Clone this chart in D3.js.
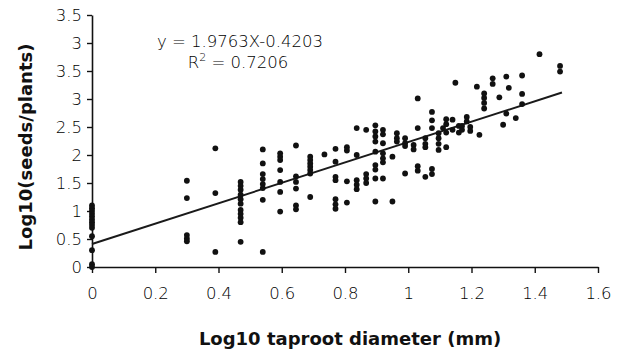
<!DOCTYPE html>
<html>
<head>
<meta charset="utf-8">
<script src="https://cdn.jsdelivr.net/npm/d3@7"></script>
<style>
  html, body { margin: 0; padding: 0; background: #fff; }
  svg { display: block; }
  .tick text { font-family: "DejaVu Sans", sans-serif; font-size: 16.5px; font-weight: 300; fill: #000; }
</style>
</head>
<body>
<svg id="chart" width="630" height="354"></svg>
<script>
// ---- data ----
const diameterCols = [0, 0.3, 0.39, 0.47, 0.54, 0.595, 0.645, 0.69, 0.735, 0.77, 0.806, 0.837,
  0.867, 0.896, 0.92, 0.95, 0.964, 0.99, 1.017, 1.03, 1.054, 1.075, 1.096, 1.11, 1.12, 1.14,
  1.149, 1.16, 1.17, 1.185, 1.196, 1.217, 1.225, 1.24, 1.267, 1.288, 1.30, 1.31, 1.318, 1.34,
  1.36, 1.415, 1.48];
const seedsByCol = [
  [1.1, 1.05, 1.0, 0.95, 0.9, 0.85, 0.8, 0.75, 0.7, 0.55, 0.3, 0.05, 0],
  [1.54, 1.23, 0.57, 0.51, 0.46],
  [2.12, 1.32, 0.27],
  [1.52, 1.45, 1.38, 1.29, 1.21, 1.13, 1.02, 0.95, 0.88, 0.80, 0.45],
  [2.10, 1.85, 1.66, 1.57, 1.48, 1.41, 1.2, 0.27],
  [2.03, 1.97, 1.91, 1.73, 1.52, 1.34, 0.99],
  [2.17, 1.62, 1.52, 1.40, 1.10, 1.03],
  [1.97, 1.91, 1.85, 1.79, 1.73, 1.67, 1.25],
  [2.01],
  [2.11, 1.88, 1.61, 1.55, 1.21, 1.12, 1.04],
  [2.14, 2.08, 1.53, 1.15],
  [2.48, 2.0, 1.55, 1.47, 1.39],
  [2.45, 1.66, 1.58, 1.50],
  [2.53, 2.42, 2.33, 2.24, 2.06, 1.82, 1.74, 1.58, 1.17],
  [2.45, 2.37, 2.21, 2.03, 1.94, 1.87, 1.58],
  [1.97, 1.17],
  [2.39, 2.30, 2.24],
  [2.30, 2.21, 2.16, 1.67],
  [2.18, 2.10],
  [3.01, 2.48, 1.80, 1.72],
  [2.30, 2.20, 2.14, 1.61],
  [2.77, 2.62, 2.48, 1.75, 1.66],
  [2.39, 2.30, 2.20, 2.09],
  [2.48],
  [2.64, 2.55, 2.40, 2.14],
  [2.63, 2.45],
  [3.29],
  [2.52, 2.40],
  [2.52, 2.45],
  [2.68, 2.60],
  [2.50, 2.43],
  [3.22],
  [2.36],
  [3.10, 3.02, 2.93, 2.83],
  [3.37, 3.27],
  [3.03],
  [2.54],
  [3.40, 2.74],
  [3.20],
  [2.66],
  [3.42, 3.09, 2.91],
  [3.80],
  [3.59, 3.49]
];
const trendX = [0, 1.486];
const trendY = [0.41, 3.115];
const xTickValues = [0, 0.2, 0.4, 0.6, 0.8, 1, 1.2, 1.4, 1.6];
const xTickLabels = ["0", "0.2", "0.4", "0.6", "0.8", "1", "1.2", "1.4", "1.6"];
const yTickValues = [0, 0.5, 1, 1.5, 2, 2.5, 3, 3.5, 4, 4.5];
const yTickLabels = ["0", "0.5", "1", "1.5", "2", "2.5", "3", "3.5", "3", "3.5"];
const equationText = "y = 1.9763X-0.4203";
const r2Label = "R";
const r2Value = " = 0.7206";
const xTitle = "Log10 taproot diameter (mm)";
const yTitle = "Log10(seeds/plants)";

// ---- build ----
const points = [];
diameterCols.forEach((x, i) => seedsByCol[i].forEach(y => points.push({x, y})));

const svg = d3.select("#chart");
const x = d3.scaleLinear().domain([0, 1.6]).range([92, 598]);
const y = d3.scaleLinear().domain([0, 4.5]).range([267, 15]);

const xAxis = d3.axisBottom(x).tickValues(xTickValues)
  .tickFormat((d, i) => xTickLabels[i]).tickSize(6).tickSizeOuter(0).tickPadding(14);
const yAxis = d3.axisLeft(y).tickValues(yTickValues)
  .tickFormat((d, i) => yTickLabels[i]).tickSize(5).tickSizeOuter(0).tickPadding(5);

const gx = svg.append("g").attr("transform", `translate(0,${y(0)})`).call(xAxis);
const gy = svg.append("g").attr("transform", `translate(${x(0)},0)`).call(yAxis);
[gx, gy].forEach(g => {
  g.select(".domain").attr("stroke", "#111").attr("stroke-width", 1.6);
  g.selectAll(".tick line").attr("stroke", "#111").attr("stroke-width", 1.4);
});
gy.selectAll(".tick text").attr("dy", "0.36em");

// trend line
svg.append("line")
  .attr("x1", x(trendX[0])).attr("y1", y(trendY[0]))
  .attr("x2", x(trendX[1])).attr("y2", y(trendY[1]))
  .attr("stroke", "#1a1a1a").attr("stroke-width", 2);

// points
svg.append("g").selectAll("circle").data(points).join("circle")
  .attr("cx", d => x(d.x)).attr("cy", d => y(d.y)).attr("r", 2.9)
  .attr("fill", "#111");

// equation
const eq = svg.append("g").attr("font-family", "DejaVu Sans, sans-serif")
  .attr("font-size", 16.5).attr("font-weight", 300).attr("fill", "#000").attr("text-anchor", "middle");
eq.append("text").attr("x", 240).attr("y", 47).text(equationText);
const r2 = eq.append("text").attr("x", 238).attr("y", 68);
r2.append("tspan").text(r2Label);
r2.append("tspan").attr("dy", -7).attr("font-size", 11).text("2");
r2.append("tspan").attr("dy", 7).text(r2Value);

// axis titles
svg.append("text").attr("x", 350).attr("y", 345)
  .attr("text-anchor", "middle").attr("font-family", "DejaVu Sans, sans-serif")
  .attr("font-weight", "bold").attr("font-size", 18).attr("fill", "#111")
  .text(xTitle);
svg.append("text").attr("transform", "translate(32,147) rotate(-90)")
  .attr("text-anchor", "middle").attr("font-family", "DejaVu Sans, sans-serif")
  .attr("font-weight", "bold").attr("font-size", 18).attr("fill", "#111")
  .text(yTitle);
</script>
</body>
</html>
